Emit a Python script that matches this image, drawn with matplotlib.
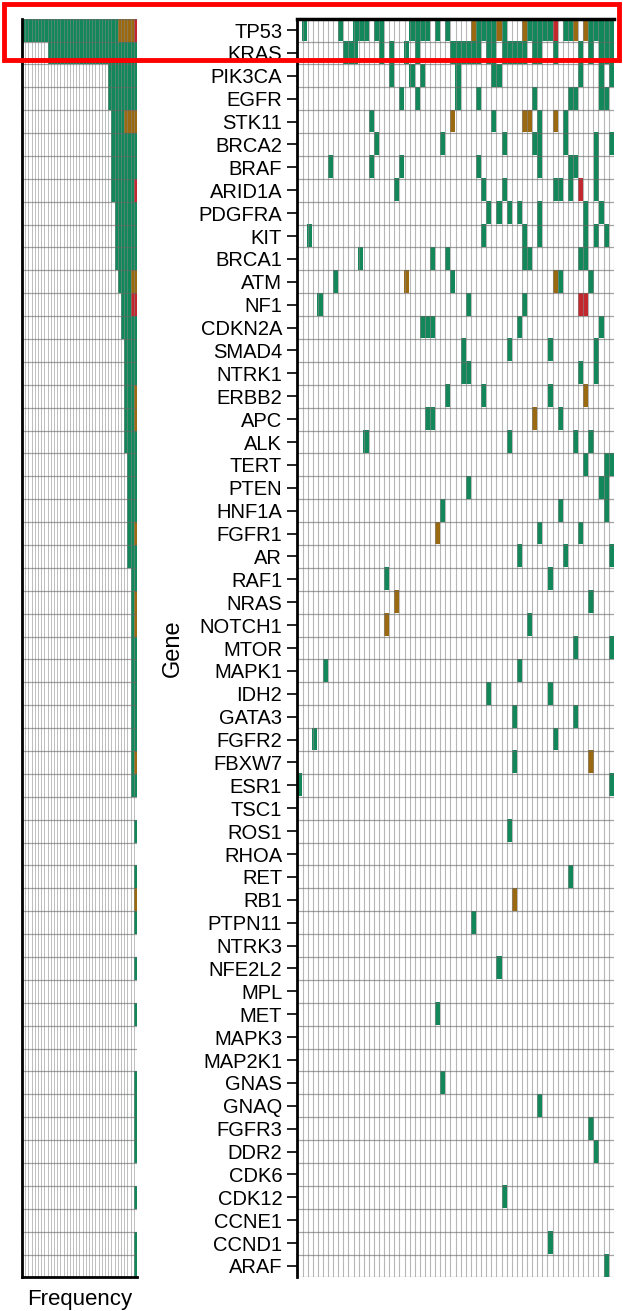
import numpy as np
import matplotlib.pyplot as plt
from matplotlib.colors import ListedColormap
from matplotlib.patches import Rectangle

plt.rcParams['font.family'] = ['Liberation Sans', 'DejaVu Sans']

genes = ['TP53', 'KRAS', 'PIK3CA', 'EGFR', 'STK11', 'BRCA2', 'BRAF', 'ARID1A',
         'PDGFRA', 'KIT', 'BRCA1', 'ATM', 'NF1', 'CDKN2A', 'SMAD4', 'NTRK1',
         'ERBB2', 'APC', 'ALK', 'TERT', 'PTEN', 'HNF1A', 'FGFR1', 'AR', 'RAF1',
         'NRAS', 'NOTCH1', 'MTOR', 'MAPK1', 'IDH2', 'GATA3', 'FGFR2', 'FBXW7',
         'ESR1', 'TSC1', 'ROS1', 'RHOA', 'RET', 'RB1', 'PTPN11', 'NTRK3',
         'NFE2L2', 'MPL', 'MET', 'MAPK3', 'MAP2K1', 'GNAS', 'GNAQ', 'FGFR3',
         'DDR2', 'CDK6', 'CDK12', 'CCNE1', 'CCND1', 'ARAF']
n_samples = 62

# sample columns carrying each alteration class
green_hits = {
    'TP53': [1, 8, 11, 12, 13, 15, 16, 22, 23, 24, 25, 27, 29, 35, 36, 37, 38,
             40, 45, 46, 47, 48, 49, 52, 53, 57, 58, 59, 60, 61],
    'KRAS': [9, 10, 11, 16, 18, 21, 23, 30, 31, 32, 33, 34, 35, 37, 38, 40, 41,
             42, 43, 44, 46, 47, 50, 55, 57, 59, 60, 61],
    'PIK3CA': [18, 22, 24, 31, 38, 39, 55, 59, 61],
    'EGFR': [20, 23, 31, 35, 46, 53, 54, 59, 60],
    'STK11': [14, 38, 47, 52],
    'BRCA2': [15, 28, 40, 46, 47, 52, 58, 61],
    'BRAF': [6, 14, 20, 35, 47, 53, 54, 58],
    'ARID1A': [19, 36, 40, 50, 51, 53, 58],
    'PDGFRA': [37, 39, 41, 43, 47, 56, 59],
    'KIT': [2, 36, 44, 47, 56, 58, 60],
    'BRCA1': [12, 26, 29, 44, 45, 55, 56],
    'ATM': [7, 30, 51, 57],
    'NF1': [4, 33, 44],
    'CDKN2A': [24, 25, 26, 43, 59],
    'SMAD4': [32, 41, 49, 58],
    'NTRK1': [32, 33, 55, 58],
    'ERBB2': [29, 36, 49],
    'APC': [25, 26, 51],
    'ALK': [13, 41, 54, 57],
    'TERT': [56, 60, 61],
    'PTEN': [33, 59, 60],
    'HNF1A': [28, 51, 60],
    'FGFR1': [47, 55],
    'AR': [43, 52, 61],
    'RAF1': [17, 49],
    'NRAS': [57],
    'NOTCH1': [45],
    'MTOR': [54, 61],
    'MAPK1': [5, 43],
    'IDH2': [37, 49],
    'GATA3': [42, 54],
    'FGFR2': [3, 50],
    'FBXW7': [42],
    'ESR1': [0, 61],
    'ROS1': [41],
    'RET': [53],
    'PTPN11': [34],
    'NFE2L2': [39],
    'MET': [27],
    'GNAS': [28],
    'GNAQ': [47],
    'FGFR3': [57],
    'DDR2': [58],
    'CDK12': [40],
    'CCND1': [49],
    'ARAF': [60],
}
brown_hits = {
    'TP53': [34, 39, 44, 54, 56],
    'STK11': [30, 44, 45, 50],
    'ATM': [21, 50],
    'ERBB2': [56],
    'APC': [46],
    'FGFR1': [27],
    'NRAS': [19],
    'NOTCH1': [17],
    'FBXW7': [57],
    'RB1': [42],
}
red_hits = {
    'TP53': [50],
    'ARID1A': [55],
    'NF1': [55, 56],
}

colors = ['#11875a', '#9b6a10', '#c3262c']  # green, brown, red

# build the gene x sample matrix (0 = no alteration)
calls = np.zeros((len(genes), n_samples), dtype=int)
for code, hits in enumerate([green_hits, brown_hits, red_hits], start=1):
    for gene, cols in hits.items():
        calls[genes.index(gene), cols] = code

counts = np.stack([(calls == k).sum(axis=1) for k in (1, 2, 3)], axis=1)
total = counts.sum(axis=1)

fig = plt.figure(figsize=(6.23, 13.11), dpi=100)
bottom, height = 0.0256, 0.9602
ax_f = fig.add_axes([0.0353, bottom, 0.1846, height])
ax_m = fig.add_axes([0.4775, bottom, 0.5076, height])

# main oncoprint
rows = np.arange(len(genes))
ax_m.imshow(np.ma.masked_equal(calls, 0), cmap=ListedColormap(colors),
            vmin=1, vmax=3, aspect='auto', interpolation='nearest',
            extent=(-0.5, n_samples - 0.5, len(genes) - 0.5, -0.5), zorder=1)
for c in range(n_samples + 1):
    ax_m.axvline(c - 0.5, color='#888888', lw=0.8, alpha=0.6, zorder=2)
for r in range(len(genes) + 1):
    ax_m.axhline(r - 0.5, color='#666666', lw=0.9, alpha=0.6, zorder=2)
ax_m.set_xlim(-0.5, n_samples - 0.5)
ax_m.set_ylim(len(genes) - 0.5, -0.5)
ax_m.set_xticks([])
ax_m.set_yticks(rows)
ax_m.set_yticklabels(genes, fontsize=14.5)
ax_m.tick_params(axis='y', length=7, width=1.2, pad=4)
for side in ['right', 'bottom']:
    ax_m.spines[side].set_visible(False)
ax_m.spines['left'].set_linewidth(2)
ax_m.spines['top'].set_linewidth(2.5)
ax_m.set_ylabel('Gene', fontsize=17)
ax_m.yaxis.set_label_coords(-0.36, 0.5)

# frequency panel
left = np.zeros(len(genes))
for k in [2, 1, 0]:
    ax_f.barh(rows, counts[:, k], left=left, height=1.0, color=colors[k],
              zorder=1)
    left = left + counts[:, k]
for v in range(int(total.max()) + 1):
    ax_f.axvline(v, color='#888888', lw=0.7, alpha=0.55, zorder=2)
for r in range(len(genes) + 1):
    ax_f.axhline(r - 0.5, color='#666666', lw=0.9, alpha=0.6, zorder=2)
ax_f.set_xlim(total.max(), 0)
ax_f.set_ylim(len(genes) - 0.5, -0.5)
ax_f.set_xticks([])
ax_f.set_yticks([])
for side in ['right', 'top']:
    ax_f.spines[side].set_visible(False)
ax_f.spines['left'].set_linewidth(2)
ax_f.spines['bottom'].set_linewidth(2)
ax_f.set_xlabel('Frequency', fontsize=16, labelpad=8)

# red highlight box around the top rows
fig.add_artist(Rectangle((4 / 623, 1 - 60 / 1311), 615 / 623, 56 / 1311,
                         transform=fig.transFigure, fill=False,
                         edgecolor='#ff0000', lw=3.5))

fig.savefig('out.png', dpi=100)
